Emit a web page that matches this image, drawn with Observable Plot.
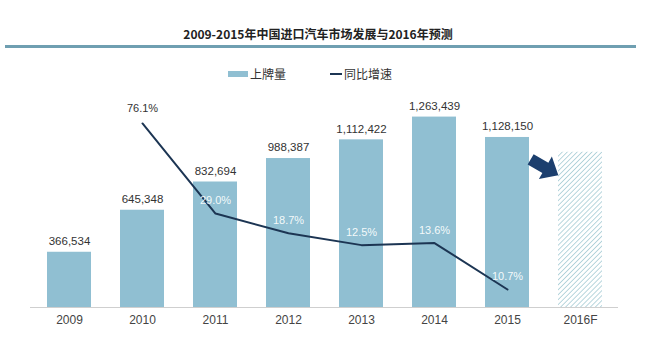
<!DOCTYPE html>
<html><head><meta charset="utf-8">
<script src="https://cdn.jsdelivr.net/npm/d3@7"></script>
<script src="https://cdn.jsdelivr.net/npm/@observablehq/plot@0.6"></script>
<style>
body{margin:0;background:#fff;}
#wrap{position:relative;width:651px;height:359px;overflow:hidden;}
#header{position:relative;width:651px;height:90px;}
#title{position:absolute;left:0;width:636px;top:24px;line-height:20px;text-align:center;font-family:"Noto Sans CJK SC";font-weight:bold;font-size:12px;color:#222;}
#rule{position:absolute;left:5px;width:631px;top:44.5px;height:3px;background:#6f9fb1;}
.lg{position:absolute;top:66px;line-height:16px;font-family:"Noto Sans CJK SC";font-size:12px;color:#333;}
#lgRect{position:absolute;left:228px;top:71px;width:20px;height:6px;background:#90bfd2;}
#lgLine{position:absolute;left:330px;top:73px;width:12px;height:2px;background:#1c3553;}
#chart{position:relative;width:651px;height:269px;}
#chart svg{position:absolute;left:0;top:0;}
</style></head>
<body>
<div id="wrap">
  <div id="header">
    <div id="title"></div>
    <div id="rule"></div>
    <div id="lgRect"></div><div class="lg" id="lgText1" style="left:250px"></div>
    <div id="lgLine"></div><div class="lg" id="lgText2" style="left:344px"></div>
  </div>
  <div id="chart"></div>
</div>
<script>
const titleText = "2009-2015年中国进口汽车市场发展与2016年预测";
const legendLabels = ["上牌量", "同比增速"];
const years = ["2009","2010","2011","2012","2013","2014","2015","2016F"];
const volumes = [366534, 645348, 832694, 988387, 1112422, 1263439, 1128150];
const forecastValue = 1030000;
const rateYears = ["2010","2011","2012","2013","2014","2015"];
const rates = [76.1, 29.0, 18.7, 12.5, 13.6, -10.7];
const rateLabels = ["76.1%","29.0%","18.7%","12.5%","13.6%","10.7%"];
const arrowMarker = [{year: "2016F", value: 930000}];

document.getElementById("title").textContent = titleText;
document.getElementById("lgText1").textContent = legendLabels[0];
document.getElementById("lgText2").textContent = legendLabels[1];

const barData = volumes.map((v, i) => ({year: years[i], value: v}));
const foreData = [{year: years[7], value: forecastValue}];
const rateData = rates.map((r, i) => ({year: rateYears[i], rate: r, label: rateLabels[i]}));

const W = 651, H = 269;
const common = {
  width: W, height: H, marginLeft: 30, marginRight: 33, marginTop: 6, marginBottom: 52,
  x: {type: "band", domain: years, paddingInner: 0.4, paddingOuter: 0.2, align: 0.5, label: null}
};

const hatchDefs = () => {
  const defs = d3.create("svg:defs");
  const p = defs.append("pattern").attr("id", "hatch").attr("patternUnits", "userSpaceOnUse")
    .attr("width", 3.5).attr("height", 3.5).attr("patternTransform", "rotate(45)");
  p.append("rect").attr("width", 3.5).attr("height", 3.5).attr("fill", "#fff");
  p.append("line").attr("x1", 0).attr("y1", 0).attr("x2", 0).attr("y2", 3.5)
    .attr("stroke", "#a2c9d3").attr("stroke-width", 1.5);
  return defs.node();
};

const blockArrow = {
  draw(context, l) {
    const sw = 6, hw = 13, hl = 15;
    context.moveTo(-sw, 0);
    context.lineTo(-sw, -(l - hl));
    context.lineTo(-hw, -(l - hl));
    context.lineTo(0, -l);
    context.lineTo(hw, -(l - hl));
    context.lineTo(sw, -(l - hl));
    context.lineTo(sw, 0);
    context.closePath();
  }
};

const p1 = Plot.plot({
  ...common,
  style: {fontFamily: "Liberation Sans, Arial, sans-serif", fontSize: "12px", color: "#444"},
  y: {domain: [0, 1400000], axis: null},
  marks: [
    hatchDefs,
    Plot.barY(barData, {x: "year", y: "value", fill: "#90bfd2"}),
    Plot.barY(foreData, {x: "year", y: "value", fill: "url(#hatch)"}),
    Plot.ruleY([0], {stroke: "#cfcfcf", strokeWidth: 1.2}),
    Plot.axisX({tickSize: 0, tickPadding: 8, fontSize: 12, fill: "#444"}),
    Plot.text(barData, {x: "year", y: "value", text: d => d3.format(",")(d.value), dy: -11, fill: "#333", fontSize: 11.5}),
    Plot.vector(arrowMarker, {x: "year", y: "value", dx: -36, rotate: 120, length: 32, anchor: "middle",
      shape: blockArrow, fill: "#1c3f6e", stroke: "none"})
  ]
});

const p2 = Plot.plot({
  ...common,
  style: {fontFamily: "Liberation Sans, Arial, sans-serif", fontSize: "11px", background: "transparent"},
  y: {domain: [-20.1, 90.2], axis: null},
  x: {...common.x, axis: null},
  marks: [
    Plot.line(rateData, {x: "year", y: "rate", stroke: "#1c3553", strokeWidth: 2}),
    Plot.text(rateData.filter(d => d.year === "2010"), {x: "year", y: "rate", text: "label", dy: -15, fill: "#333", fontSize: 11}),
    Plot.text(rateData.filter(d => d.year !== "2010"), {x: "year", y: "rate", text: "label", dy: -13, fill: "#ffffff", fillOpacity: 0.92, fontSize: 11})
  ]
});

const chart = document.getElementById("chart");
chart.appendChild(p1);
chart.appendChild(p2);
</script>
</body></html>
